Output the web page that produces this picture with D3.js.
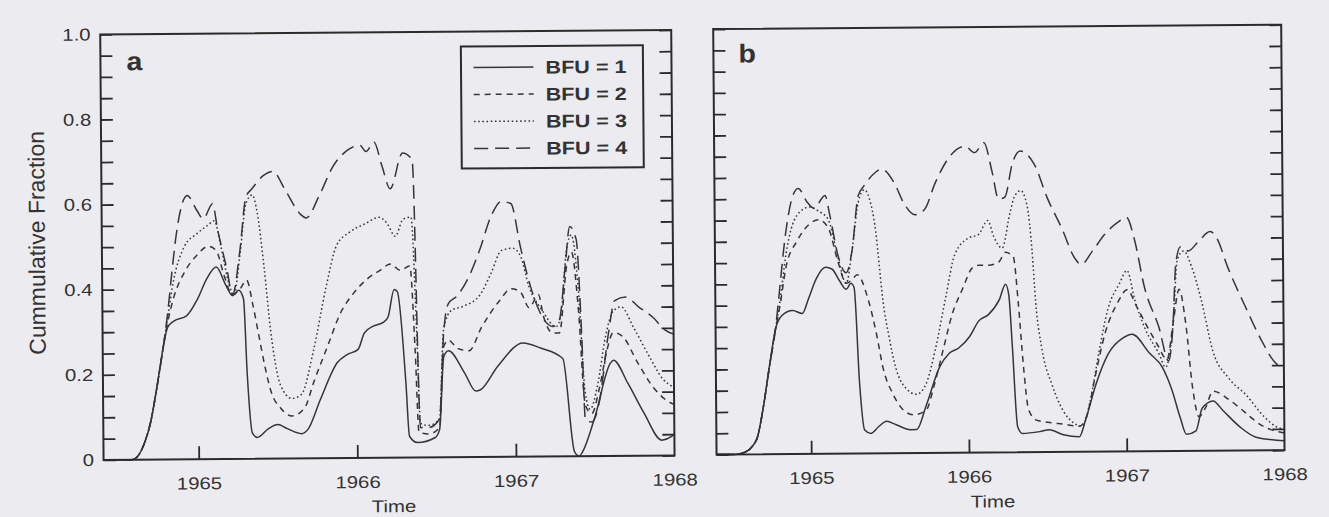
<!DOCTYPE html>
<html>
<head>
<meta charset="utf-8">
<script src="https://cdn.jsdelivr.net/npm/d3@7"></script>
<style>
  html, body { margin: 0; padding: 0; background: #ececf0; }
  svg { display: block; }
  text { font-family: "Liberation Sans", Arial, Helvetica, sans-serif; fill: #333; }
</style>
</head>
<body>
<svg id="chart" width="1329" height="517"></svg>
<script>
// ---- data: cumulative fraction over time, [year, fraction] ----
const xTickYears = [1965, 1966, 1967];
const xLabelYears = [1965, 1966, 1967, 1968];
const yLabelValues = [0, 0.2, 0.4, 0.6, 0.8, 1.0];
const yLabelText = ["0", "0.2", "0.4", "0.6", "0.8", "1.0"];
const seriesNames = ["BFU = 1", "BFU = 2", "BFU = 3", "BFU = 4"];
const panelLetters = ["a", "b"];

const aBfu1 = [[1964.40,0],[1964.58,0],[1964.62,0.01],[1964.66,0.04],[1964.70,0.09],[1964.74,0.17],[1964.78,0.26],[1964.81,0.31],[1964.85,0.325],[1964.93,0.337],[1965.00,0.376],[1965.06,0.424],[1965.12,0.451],[1965.18,0.408],[1965.22,0.384],[1965.26,0.396],[1965.29,0.376],[1965.31,0.2],[1965.34,0.06],[1965.37,0.05],[1965.44,0.07],[1965.50,0.08],[1965.56,0.07],[1965.65,0.058],[1965.69,0.068],[1965.77,0.138],[1965.88,0.225],[1965.94,0.243],[1966.01,0.255],[1966.05,0.293],[1966.11,0.31],[1966.17,0.318],[1966.20,0.33],[1966.24,0.395],[1966.26,0.39],[1966.31,0.175],[1966.33,0.05],[1966.38,0.035],[1966.49,0.046],[1966.52,0.065],[1966.55,0.237],[1966.58,0.25],[1966.68,0.198],[1966.75,0.155],[1966.78,0.158],[1966.89,0.213],[1967.05,0.267],[1967.16,0.255],[1967.30,0.23],[1967.37,0.01],[1967.40,0],[1967.42,0.01],[1967.50,0.092],[1967.60,0.218],[1967.62,0.225],[1967.71,0.17],[1967.81,0.10],[1967.92,0.036],[1967.98,0.044],[1968.0,0.05]];

const aBfu2 = [[1964.40,0],[1964.58,0],[1964.62,0.01],[1964.66,0.04],[1964.70,0.09],[1964.74,0.17],[1964.78,0.26],[1964.81,0.32],[1964.85,0.38],[1964.92,0.44],[1965.0,0.48],[1965.07,0.50],[1965.12,0.49],[1965.17,0.43],[1965.22,0.385],[1965.27,0.40],[1965.31,0.42],[1965.35,0.36],[1965.38,0.30],[1965.42,0.22],[1965.46,0.157],[1965.52,0.118],[1965.59,0.10],[1965.67,0.118],[1965.73,0.18],[1965.82,0.265],[1965.90,0.34],[1965.98,0.385],[1966.07,0.42],[1966.15,0.44],[1966.22,0.455],[1966.28,0.44],[1966.34,0.45],[1966.37,0.25],[1966.39,0.06],[1966.45,0.055],[1966.52,0.07],[1966.55,0.26],[1966.58,0.275],[1966.64,0.255],[1966.71,0.25],[1966.79,0.305],[1966.90,0.365],[1966.98,0.395],[1967.04,0.385],[1967.09,0.35],[1967.15,0.38],[1967.18,0.33],[1967.24,0.29],[1967.28,0.29],[1967.33,0.45],[1967.36,0.48],[1967.40,0.35],[1967.44,0.12],[1967.48,0.10],[1967.53,0.16],[1967.58,0.25],[1967.62,0.29],[1967.68,0.28],[1967.77,0.22],[1967.87,0.16],[1967.95,0.13],[1968.0,0.12]];

const aBfu3 = [[1964.40,0],[1964.58,0],[1964.62,0.01],[1964.66,0.04],[1964.70,0.09],[1964.74,0.17],[1964.78,0.26],[1964.81,0.33],[1964.85,0.42],[1964.92,0.50],[1965.0,0.53],[1965.07,0.55],[1965.11,0.56],[1965.15,0.50],[1965.20,0.41],[1965.23,0.385],[1965.27,0.48],[1965.31,0.6],[1965.35,0.62],[1965.38,0.58],[1965.42,0.455],[1965.46,0.30],[1965.52,0.172],[1965.59,0.141],[1965.65,0.15],[1965.73,0.255],[1965.81,0.40],[1965.88,0.50],[1965.96,0.53],[1966.06,0.55],[1966.15,0.565],[1966.20,0.55],[1966.25,0.52],[1966.30,0.56],[1966.35,0.565],[1966.38,0.30],[1966.40,0.08],[1966.45,0.075],[1966.52,0.09],[1966.55,0.30],[1966.60,0.345],[1966.68,0.355],[1966.78,0.38],[1966.85,0.43],[1966.92,0.485],[1966.99,0.49],[1967.04,0.47],[1967.09,0.40],[1967.17,0.345],[1967.26,0.305],[1967.29,0.33],[1967.33,0.49],[1967.36,0.52],[1967.40,0.40],[1967.44,0.15],[1967.47,0.11],[1967.52,0.17],[1967.57,0.28],[1967.62,0.34],[1967.67,0.35],[1967.75,0.30],[1967.85,0.23],[1967.93,0.18],[1968.0,0.16]];

const aBfu4 = [[1964.40,0],[1964.58,0],[1964.62,0.01],[1964.66,0.04],[1964.70,0.09],[1964.74,0.17],[1964.78,0.26],[1964.81,0.34],[1964.84,0.44],[1964.87,0.53],[1964.94,0.62],[1965.0,0.585],[1965.04,0.565],[1965.10,0.60],[1965.13,0.54],[1965.19,0.44],[1965.22,0.384],[1965.27,0.49],[1965.31,0.615],[1965.35,0.635],[1965.42,0.665],[1965.48,0.675],[1965.56,0.63],[1965.65,0.575],[1965.69,0.565],[1965.77,0.615],[1965.86,0.685],[1965.96,0.725],[1966.03,0.735],[1966.07,0.72],[1966.12,0.742],[1966.17,0.685],[1966.22,0.632],[1966.30,0.716],[1966.36,0.70],[1966.40,0.07],[1966.45,0.07],[1966.52,0.09],[1966.55,0.29],[1966.58,0.36],[1966.64,0.38],[1966.72,0.43],[1966.78,0.485],[1966.86,0.57],[1966.92,0.60],[1966.98,0.595],[1967.04,0.49],[1967.10,0.40],[1967.17,0.33],[1967.24,0.305],[1967.28,0.32],[1967.32,0.446],[1967.35,0.54],[1967.39,0.51],[1967.42,0.29],[1967.44,0.085],[1967.48,0.08],[1967.53,0.13],[1967.59,0.29],[1967.63,0.365],[1967.70,0.373],[1967.78,0.35],[1967.87,0.325],[1967.95,0.294],[1968.0,0.285]];

const bBfu1 = [[1964.40,0],[1964.52,0],[1964.58,0.005],[1964.63,0.02],[1964.66,0.04],[1964.70,0.113],[1964.74,0.207],[1964.78,0.294],[1964.82,0.325],[1964.89,0.337],[1964.95,0.33],[1964.99,0.364],[1965.04,0.411],[1965.10,0.438],[1965.14,0.434],[1965.19,0.405],[1965.23,0.386],[1965.26,0.40],[1965.28,0.39],[1965.31,0.166],[1965.34,0.055],[1965.38,0.047],[1965.43,0.063],[1965.48,0.075],[1965.54,0.067],[1965.63,0.055],[1965.67,0.055],[1965.73,0.11],[1965.82,0.203],[1965.88,0.234],[1965.94,0.246],[1966.01,0.273],[1966.07,0.31],[1966.13,0.324],[1966.20,0.359],[1966.24,0.395],[1966.26,0.37],[1966.28,0.25],[1966.31,0.06],[1966.34,0.044],[1966.45,0.048],[1966.51,0.052],[1966.60,0.04],[1966.70,0.035],[1966.74,0.074],[1966.81,0.16],[1966.89,0.231],[1966.98,0.266],[1967.04,0.275],[1967.15,0.23],[1967.23,0.197],[1967.29,0.143],[1967.34,0.079],[1967.38,0.039],[1967.44,0.047],[1967.48,0.10],[1967.55,0.117],[1967.61,0.095],[1967.72,0.055],[1967.82,0.031],[1968.0,0.022]];

const bBfu2 = [[1964.40,0],[1964.52,0],[1964.58,0.005],[1964.63,0.02],[1964.66,0.04],[1964.70,0.113],[1964.74,0.207],[1964.78,0.294],[1964.81,0.35],[1964.85,0.44],[1964.92,0.50],[1965.0,0.54],[1965.06,0.55],[1965.12,0.53],[1965.18,0.45],[1965.23,0.40],[1965.27,0.41],[1965.30,0.42],[1965.37,0.36],[1965.42,0.28],[1965.46,0.20],[1965.52,0.14],[1965.59,0.10],[1965.65,0.09],[1965.73,0.10],[1965.78,0.155],[1965.84,0.24],[1965.90,0.325],[1965.97,0.387],[1966.03,0.434],[1966.07,0.44],[1966.13,0.44],[1966.20,0.448],[1966.24,0.47],[1966.29,0.46],[1966.32,0.35],[1966.35,0.2],[1966.38,0.10],[1966.43,0.075],[1966.50,0.07],[1966.60,0.065],[1966.70,0.06],[1966.75,0.085],[1966.80,0.17],[1966.87,0.28],[1966.95,0.35],[1967.01,0.38],[1967.07,0.34],[1967.14,0.29],[1967.20,0.25],[1967.26,0.215],[1967.30,0.30],[1967.34,0.38],[1967.38,0.30],[1967.42,0.15],[1967.46,0.08],[1967.50,0.10],[1967.55,0.14],[1967.65,0.12],[1967.75,0.09],[1967.85,0.06],[1968.0,0.04]];

const bBfu3 = [[1964.40,0],[1964.52,0],[1964.58,0.005],[1964.63,0.02],[1964.66,0.04],[1964.70,0.113],[1964.74,0.207],[1964.78,0.294],[1964.81,0.36],[1964.85,0.47],[1964.92,0.56],[1965.0,0.58],[1965.06,0.57],[1965.12,0.55],[1965.18,0.46],[1965.23,0.40],[1965.27,0.48],[1965.31,0.59],[1965.35,0.62],[1965.38,0.60],[1965.42,0.52],[1965.44,0.445],[1965.46,0.366],[1965.50,0.272],[1965.54,0.201],[1965.60,0.154],[1965.67,0.138],[1965.73,0.161],[1965.79,0.24],[1965.86,0.365],[1965.92,0.466],[1966.01,0.505],[1966.07,0.512],[1966.13,0.545],[1966.17,0.505],[1966.22,0.48],[1966.27,0.56],[1966.30,0.60],[1966.34,0.615],[1966.38,0.58],[1966.41,0.472],[1966.43,0.354],[1966.47,0.237],[1966.53,0.158],[1966.60,0.096],[1966.66,0.069],[1966.72,0.06],[1966.77,0.118],[1966.83,0.236],[1966.89,0.338],[1966.96,0.393],[1967.01,0.425],[1967.06,0.354],[1967.12,0.29],[1967.21,0.228],[1967.25,0.197],[1967.30,0.30],[1967.33,0.45],[1967.37,0.47],[1967.42,0.433],[1967.48,0.354],[1967.55,0.235],[1967.65,0.17],[1967.76,0.13],[1967.87,0.08],[1967.95,0.055],[1968.0,0.05]];

const bBfu4 = [[1964.40,0],[1964.52,0],[1964.58,0.005],[1964.63,0.02],[1964.66,0.04],[1964.70,0.113],[1964.74,0.207],[1964.78,0.294],[1964.80,0.36],[1964.85,0.522],[1964.89,0.60],[1964.93,0.624],[1964.99,0.59],[1965.03,0.577],[1965.10,0.607],[1965.13,0.56],[1965.18,0.465],[1965.23,0.425],[1965.27,0.48],[1965.31,0.605],[1965.35,0.63],[1965.42,0.66],[1965.46,0.668],[1965.54,0.635],[1965.60,0.587],[1965.67,0.56],[1965.73,0.572],[1965.80,0.635],[1965.88,0.69],[1965.99,0.72],[1966.05,0.705],[1966.11,0.728],[1966.16,0.66],[1966.20,0.595],[1966.24,0.60],[1966.29,0.68],[1966.34,0.708],[1966.43,0.675],[1966.51,0.596],[1966.60,0.525],[1966.68,0.455],[1966.72,0.44],[1966.79,0.47],[1966.87,0.51],[1966.96,0.54],[1967.01,0.55],[1967.06,0.496],[1967.12,0.386],[1967.21,0.291],[1967.27,0.212],[1967.30,0.30],[1967.32,0.44],[1967.35,0.48],[1967.40,0.47],[1967.46,0.49],[1967.54,0.515],[1967.58,0.50],[1967.65,0.43],[1967.76,0.337],[1967.86,0.258],[1967.95,0.204],[1968.0,0.195]];

// ---- layout and styling ----
const timeDomain = [1964.4, 1968];
const lineColor = "#363636";
const frameColor = "#2b2b2b";
const dashes = [null, "6,5", "1.6,2.6", "14,7"];
const textStretch = 1.2;

const panels = [
  { letter: panelLetters[0], x0: 102, x1: 673, y0: 30, y1: 455.5, series: [aBfu1, aBfu2, aBfu3, aBfu4],
    yLabels: true, legend: true, timeX: 392, letterX: 128, letterY: 66 },
  { letter: panelLetters[1], x0: 715, x1: 1283, y0: 29.5, y1: 455, series: [bBfu1, bBfu2, bBfu3, bBfu4],
    yLabels: false, legend: false, timeX: 991, letterX: 740, letterY: 63 }
];

const svg = d3.select("#chart");
// the printed figure sits slightly tilted on the page
const root = svg.append("g").attr("transform", "rotate(-0.45 664 258)");

function styleAxis(g) {
  g.select(".domain").remove();
  g.selectAll(".tick line").attr("stroke", frameColor).attr("stroke-width", 1.8);
  g.attr("font-family", null).attr("font-size", null);
  g.selectAll("text").attr("fill", "#333").style("font-size", "17px");
}

panels.forEach(p => {
  const x = d3.scaleLinear().domain(timeDomain).range([p.x0, p.x1]);
  const y = d3.scaleLinear().domain([0, 1]).range([p.y1, p.y0]);
  const g = root.append("g");

  // minor ticks every 0.05 on both vertical sides, pointing inward
  const minorVals = d3.range(0, 1.0001, 0.05).map(v => +v.toFixed(2));
  g.append("g").attr("transform", `translate(${p.x0},0)`)
    .call(d3.axisLeft(y).tickValues(minorVals).tickSize(-12).tickFormat(""))
    .call(styleAxis);
  g.append("g").attr("transform", `translate(${p.x1},0)`)
    .call(d3.axisRight(y).tickValues(minorVals).tickSize(-12).tickFormat(""))
    .call(styleAxis);

  if (p.yLabels) {
    g.append("g").attr("transform", `translate(${p.x0},0)`)
      .call(d3.axisLeft(y).tickValues(yLabelValues).tickSize(0).tickPadding(8)
        .tickFormat((d, i) => yLabelText[i]))
      .call(styleAxis)
      .selectAll("text").attr("transform", `scale(${textStretch},1)`);
  }

  // year ticks pointing up from the time axis
  g.append("g").attr("transform", `translate(0,${p.y1})`)
    .call(d3.axisBottom(x).tickValues(xTickYears).tickSize(-13).tickFormat(""))
    .call(styleAxis);
  g.append("g").attr("transform", `translate(0,${p.y1})`)
    .call(d3.axisBottom(x).tickValues(xLabelYears).tickSize(0).tickPadding(18).tickFormat(d3.format("d")))
    .call(styleAxis)
    .selectAll("text").attr("transform", `scale(${textStretch},1)`);

  // curves
  const line = d3.line().x(d => x(d[0])).y(d => y(d[1])).curve(d3.curveMonotoneX);
  p.series.forEach((s, i) => {
    g.append("path").datum(s)
      .attr("d", line)
      .attr("fill", "none")
      .attr("stroke", lineColor)
      .attr("stroke-width", 1.5)
      .attr("stroke-dasharray", dashes[i]);
  });

  // frame
  g.append("rect")
    .attr("x", p.x0).attr("y", p.y0)
    .attr("width", p.x1 - p.x0).attr("height", p.y1 - p.y0)
    .attr("fill", "none").attr("stroke", frameColor).attr("stroke-width", 2);

  // panel letter
  g.append("text")
    .attr("transform", `translate(${p.letterX},${p.letterY}) scale(1.1,1)`)
    .style("font-size", "26px").style("font-weight", "bold")
    .text(p.letter);

  // time label
  g.append("text")
    .attr("transform", `translate(${p.timeX},510) scale(${textStretch},1)`)
    .attr("text-anchor", "middle")
    .style("font-size", "17px")
    .text("Time");

  if (p.legend) {
    const lg = g.append("g");
    lg.append("rect")
      .attr("x", 462.5).attr("y", 45).attr("width", 182).attr("height", 122)
      .attr("fill", "none").attr("stroke", frameColor).attr("stroke-width", 2);
    seriesNames.forEach((name, i) => {
      const yy = 66 + i * 27;
      lg.append("line")
        .attr("x1", 475).attr("x2", 535).attr("y1", yy).attr("y2", yy)
        .attr("stroke", lineColor).attr("stroke-width", 1.5)
        .attr("stroke-dasharray", dashes[i]);
      lg.append("text")
        .attr("transform", `translate(547,${yy + 6.5}) scale(1.2,1)`)
        .style("font-size", "18px").style("font-weight", "bold")
        .text(name);
    });
  }
});

// shared vertical axis title
root.append("text")
  .attr("transform", "translate(45,238) rotate(-90)")
  .attr("text-anchor", "middle")
  .style("font-size", "23px")
  .text("Cummulative Fraction");
</script>
</body>
</html>
